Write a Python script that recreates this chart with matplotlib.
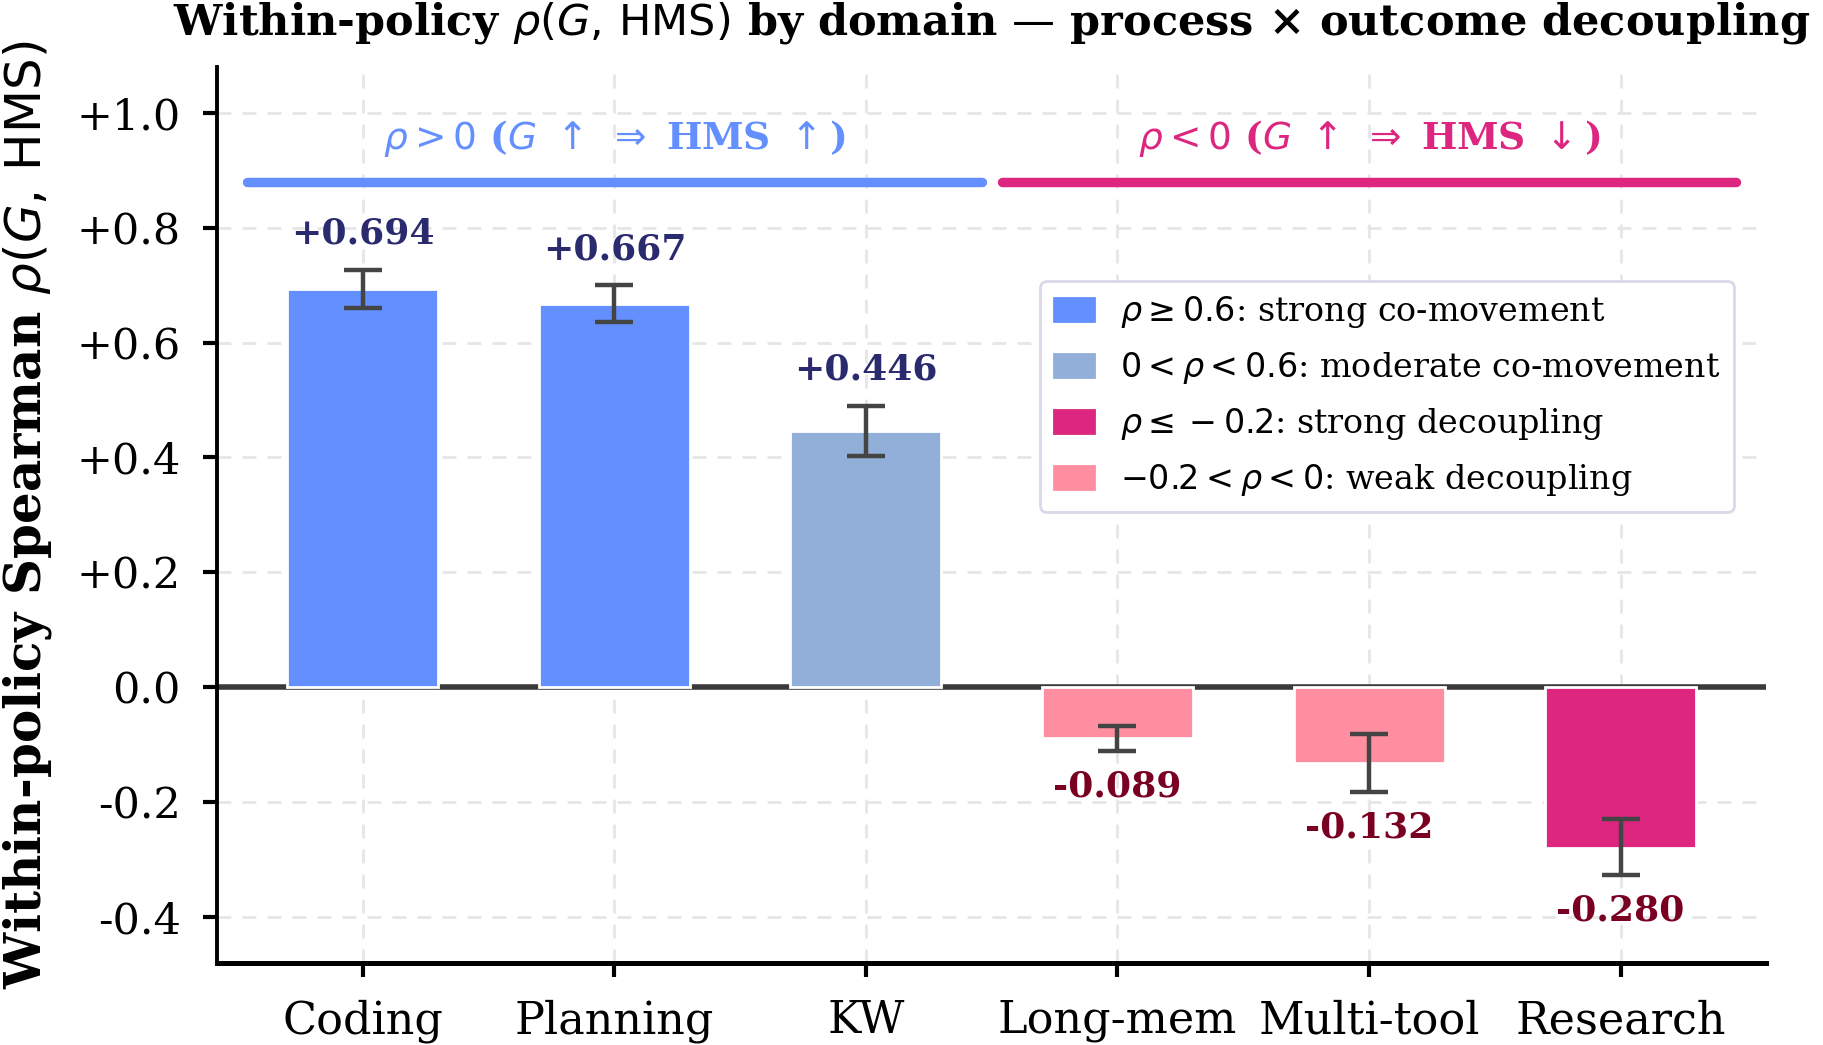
import numpy as np
import matplotlib.pyplot as plt
from matplotlib.patches import Patch

plt.rcParams['font.family'] = 'DejaVu Serif'

# Données
domains = ["Coding", "Planning", "KW", "Long-mem", "Multi-tool", "Research"]
rho = [0.694, 0.667, 0.446, -0.089, -0.132, -0.280]
ci_low = [0.660, 0.636, 0.403, -0.111, -0.182, -0.326]
ci_high = [0.727, 0.700, 0.490, -0.067, -0.081, -0.229]
yticks = [-0.4, -0.2, 0.0, 0.2, 0.4, 0.6, 0.8, 1.0]

# Couleurs par catégorie
def couleur(r):
    if r >= 0.6:
        return "#648FFF"
    if r > 0:
        return "#91AFD8"
    if r <= -0.2:
        return "#DC267F"
    return "#FF8FA0"

cols = [couleur(r) for r in rho]
x = np.arange(len(domains))
rho = np.array(rho)
err = np.array([rho - np.array(ci_low), np.array(ci_high) - rho])

fig = plt.figure(figsize=(9.115, 5.225), dpi=200)
ax = fig.add_axes([0.119, 0.0785, 0.850, 0.8575])

ax.grid(True, linestyle=(0, (5, 4)), color="#e6e6e6", linewidth=1.0, zorder=0)
ax.set_axisbelow(True)
ax.axhline(0, color="#3a3a3a", linewidth=2.0, zorder=1)

ax.bar(x, rho, width=0.6, color=cols, edgecolor="white", linewidth=1.0, zorder=2)
ax.errorbar(x, rho, yerr=err, fmt="none", ecolor="#444444", elinewidth=1.6,
            capsize=7, capthick=1.6, zorder=3)

# Étiquettes des valeurs
for i, r in enumerate(rho):
    if r > 0:
        ax.text(x[i], ci_high[i] + 0.033, f"{r:+.3f}", ha="center", va="bottom",
                fontsize=13, fontweight="bold", color="#2a2a6e", zorder=4)
    else:
        ax.text(x[i], ci_low[i] - 0.033, f"{r:.3f}", ha="center", va="top",
                fontsize=13, fontweight="bold", color="#7a0022", zorder=4)

# Bandeaux
ax.plot([-0.46, 2.46], [0.88, 0.88], color="#648FFF", linewidth=3.4,
        solid_capstyle="round", zorder=3)
ax.plot([2.54, 5.46], [0.88, 0.88], color="#DC267F", linewidth=3.4,
        solid_capstyle="round", zorder=3)
ax.text(1, 0.955, r"$\rho > 0$ ($G\ \uparrow\ \Rightarrow$ HMS $\uparrow$)", ha="center",
        va="center", fontsize=13.5, fontweight="bold", color="#648FFF")
ax.text(4, 0.955, r"$\rho < 0$ ($G\ \uparrow\ \Rightarrow$ HMS $\downarrow$)", ha="center",
        va="center", fontsize=13.5, fontweight="bold", color="#DC267F")

# Légende
handles = [Patch(color="#648FFF", label=r"$\rho \geq 0.6$: strong co-movement"),
           Patch(color="#91AFD8", label=r"$0 < \rho < 0.6$: moderate co-movement"),
           Patch(color="#DC267F", label=r"$\rho \leq -0.2$: strong decoupling"),
           Patch(color="#FF8FA0", label=r"$-0.2 < \rho < 0$: weak decoupling")]
ax.legend(handles=handles, loc="upper right", bbox_to_anchor=(0.979, 0.761),
          borderaxespad=0, fontsize=12, handlelength=1.2, labelspacing=0.6,
          frameon=True, edgecolor="#d8d8e8", framealpha=1.0)

# Axes
ax.set_xlim(-0.58, 5.58)
ax.set_ylim(-0.48, 1.08)
ax.set_xticks(x)
ax.set_xticklabels(domains, fontsize=16)
ax.set_yticks(yticks)
ax.set_yticklabels([f"{v:+.1f}" if v > 0 else f"{v:.1f}" for v in yticks], fontsize=15.5)
ax.tick_params(axis="both", length=5, width=1.5)
ax.tick_params(axis="y", pad=8)
ax.tick_params(axis="x", pad=8)
for s in ["top", "right"]:
    ax.spines[s].set_visible(False)
ax.spines["left"].set_linewidth(1.4)
ax.spines["bottom"].set_linewidth(1.8)

ax.set_ylabel(r"Within-policy Spearman $\rho(G,\,\mathrm{HMS})$", fontsize=18,
              fontweight="bold", labelpad=8)
ax.set_title(r"Within-policy $\rho(G,\,\mathrm{HMS})$ by domain — process × outcome decoupling",
             fontsize=15.5, fontweight="bold", pad=11.5)

plt.savefig("out.png", dpi=200)
